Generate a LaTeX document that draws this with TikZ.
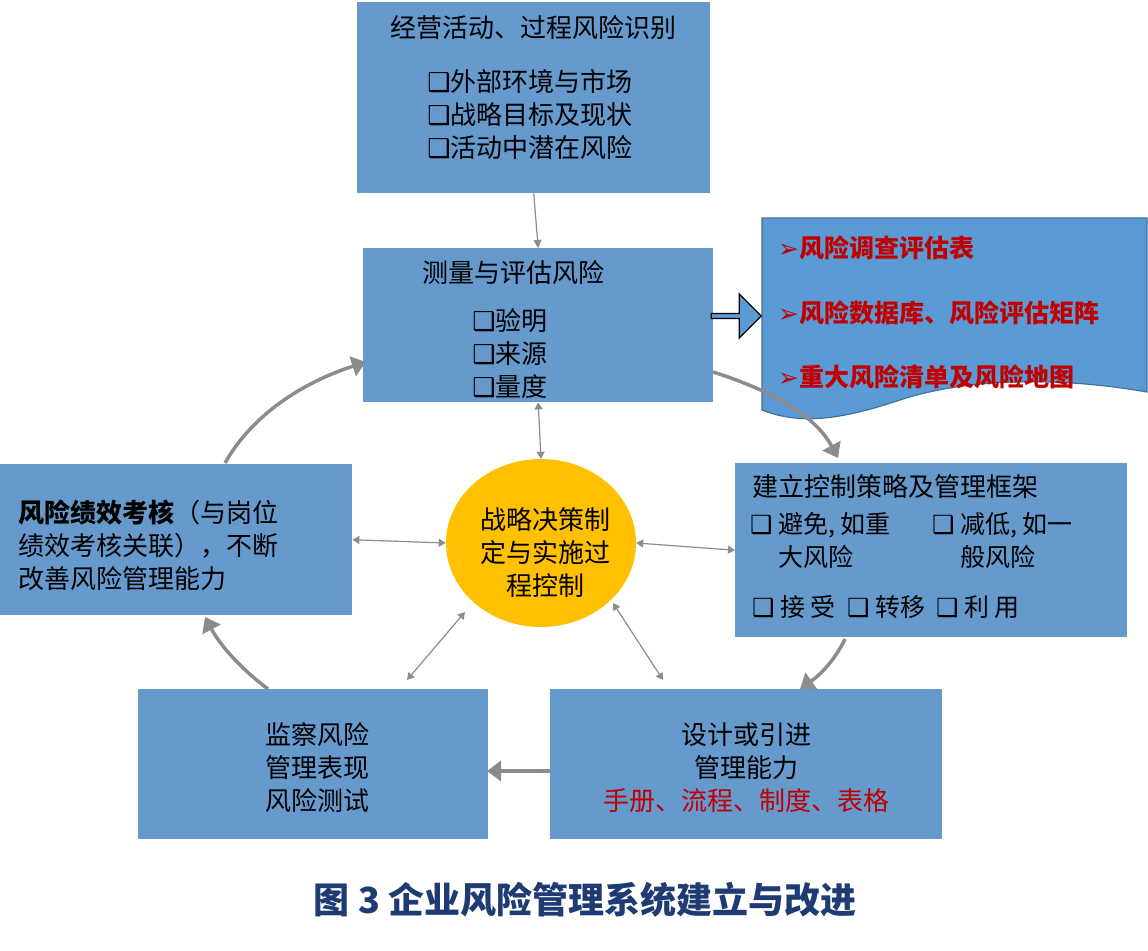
\documentclass[tikz,border=0pt]{standalone}
\usepackage{fontspec}
\setmainfont{Noto Sans CJK SC}
\newfontfamily\symf{DejaVu Sans}
\usetikzlibrary{shapes.arrows,shapes.geometric,arrows.meta}
\definecolor{boxb}{HTML}{6699CC}
\definecolor{docb}{HTML}{5B9BD5}
\definecolor{docl}{HTML}{41719C}
\definecolor{redt}{HTML}{C00000}
\definecolor{capb}{HTML}{1F3B73}
\definecolor{yel}{HTML}{FFC000}
\newcommand{\cb}{{\symf\char"2751}}
\newcommand{\ar}{{\symf\char"27A2}}
\tikzset{
 bx/.style={fill=boxb,draw=none},
 tx/.style={font=\fontsize{26}{33}\selectfont,align=left,inner sep=0},
 big/.style={draw=gray!90,line width=3.5pt,-{Triangle[length=14pt,width=20pt]}},
 thin/.style={draw=gray!90,line width=1.2pt,{Triangle[length=7pt,width=8pt]}-{Triangle[length=7pt,width=8pt]}}
}
\begin{document}
\begin{tikzpicture}[x=1pt,y=-1pt]
\useasboundingbox (0,0) rectangle (1148,950);
% boxes
\node[bx,minimum width=353pt,minimum height=191pt,anchor=north west] (top) at (357,2) {};
\node[bx,minimum width=350pt,minimum height=154pt,anchor=north west] (mea) at (363,248) {};
\node[bx,minimum width=392pt,minimum height=174pt,anchor=north west] (rb) at (735,463) {};
\node[bx,minimum width=392pt,minimum height=150pt,anchor=north west] (br) at (550,689) {};
\node[bx,minimum width=350pt,minimum height=150pt,anchor=north west] (bl) at (138,689) {};
\node[bx,minimum width=352pt,minimum height=151pt,anchor=north west] (lb) at (0,464) {};
\node[ellipse,fill=yel,minimum width=190pt,minimum height=168pt,inner sep=0] (el) at (541,543) {};
% texts
\node[tx] (t1) at (533,28) {经营活动、过程风险识别};
\node[tx] (t2) at (530,115) {\cb 外部环境与市场\\\cb 战略目标及现状\\\cb 活动中潜在风险};
\node[tx] (m1) at (513,273) {测量与评估风险};
\node[tx] (m2) at (510,354) {\cb 验明\\\cb 来源\\\cb 量度};
\node[tx,align=center] (et) at (545,553) {战略决策制\\定与实施过\\程控制};
\node[tx,anchor=west] (r1) at (752,487) {建立控制策略及管理框架};
\node[tx,anchor=north west,font=\fontsize{25}{33}\selectfont] (r2) at (750,512) {\cb\ 避免, 如重\\\phantom{\cb}\ 大风险};
\node[tx,anchor=north west,font=\fontsize{25}{33}\selectfont] (r3) at (932,512) {\cb\ 减低, 如一\\\phantom{\cb}\ 般风险};
\node[tx,anchor=west,font=\fontsize{25}{33}\selectfont] (r4) at (752,607) {\cb\ 接\ 受\ \ \cb\ 转移\ \ \cb\ 利\ 用};
\node[tx,align=center] (b1) at (746,768) {设计或引进\\管理能力\\\textcolor{redt}{手册、流程、制度、表格}};
\node[tx,align=center] (b2) at (317,768) {监察风险\\管理表现\\风险测试};
\node[tx,anchor=west] (l1) at (18,545) {\textbf{风险绩效考核}（与岗位\\绩效考核关联），不断\\改善风险管理能力};
% document shape
\draw[fill=docb,draw=docl,line width=1.2pt] (762,218) -- (1147,218) -- (1147,392)
  .. controls (1050,375) and (960,380) .. (900,400) .. controls (840,420) and (800,425) .. (762,410) -- cycle;
\node[tx,anchor=west,text=redt,font=\bfseries\fontsize{25}{30}\selectfont] (d1) at (778,248) {\ar 风险调查评估表};
\node[tx,anchor=west,text=redt,font=\bfseries\fontsize{25}{30}\selectfont] (d2) at (778,313) {\ar 风险数据库、风险评估矩阵};
\node[tx,anchor=west,text=redt,font=\bfseries\fontsize{25}{30}\selectfont] (d3) at (778,377) {\ar 重大风险清单及风险地图};
% block arrow
\node[single arrow,draw=black,line width=1.3pt,fill=docb,minimum height=50pt,minimum width=44pt,single arrow head extend=5pt,inner sep=0,single arrow tip angle=90] (ba) at (735,316) {};
% connectors
\draw[draw=gray!90,line width=1.2pt,-{Triangle[length=8pt,width=8pt]}] (top.south) -- (mea.north);
\coordinate (a1) at (713,372); \coordinate (a1e) at (838,458);
\draw[big] (a1) .. controls (770,390) and (815,415) .. (a1e);
\coordinate (a2) at (845,639); \coordinate (a2e) at (800,689);
\draw[big] (a2) .. controls (835,660) and (820,675) .. (a2e);
\coordinate (a3) at (550,771); \coordinate (a3e) at (487,771);
\draw[big] (a3) -- (a3e);
\coordinate (a4) at (268,689); \coordinate (a4e) at (205,617);
\draw[big] (a4) .. controls (240,668) and (220,645) .. (a4e);
\coordinate (a5) at (225,463); \coordinate (a5e) at (366,362);
\draw[big] (a5) .. controls (255,410) and (310,380) .. (a5e);
\draw[thin] (mea.south) -- (el.north);
\draw[thin] (lb.east) -- (el.west);
\draw[thin] (el.east) -- (rb.west);
\coordinate (c1) at (465,612); \coordinate (c1e) at (407,680);
\draw[thin] (c1) -- (c1e);
\coordinate (c2) at (613,603); \coordinate (c2e) at (663,680);
\draw[thin] (c2) -- (c2e);
% caption
\node[font=\bfseries\fontsize{36}{40}\selectfont,text=capb] (cap) at (585,900) {图 3 企业风险管理系统建立与改进};
\end{tikzpicture}
\end{document}
